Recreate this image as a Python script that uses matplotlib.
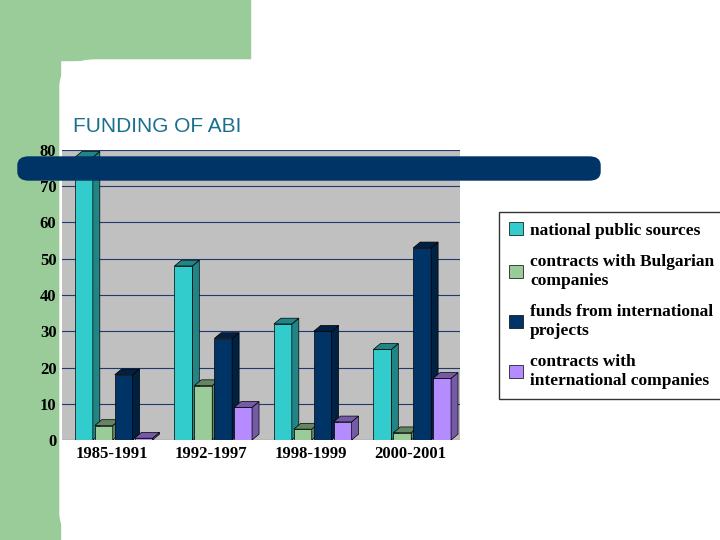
import matplotlib
matplotlib.use("Agg")
import matplotlib.pyplot as plt
from matplotlib.patches import Polygon, Rectangle, FancyBboxPatch
import numpy as np
import matplotlib.colors as mc

categories = ["1985-1991", "1992-1997", "1998-1999", "2000-2001"]
series = ["national public sources", "contracts with Bulgarian\ncompanies",
          "funds from international\nprojects", "contracts with\ninternational companies"]
values = [
    [78, 48, 32, 25],
    [4, 15, 3, 2],
    [18, 28, 30, 53],
    [0.5, 9, 5, 17],
]
colors = ["#33CCCC", "#99CC99", "#003366", "#B48CFF"]

fig = plt.figure(figsize=(7.2, 5.4), dpi=100)
fig.patch.set_facecolor("white")
# slide decorations
fig.patches.append(Rectangle((0, 1 - 60/540), 250/720, 60/540, transform=fig.transFigure, color="#99CC99", zorder=0))
fig.patches.append(Rectangle((0, 0), 60/720, 1, transform=fig.transFigure, color="#99CC99", zorder=0))
fig.patches.append(FancyBboxPatch((60/720, 0), 0.9, 480/540, boxstyle="round,pad=0,rounding_size=0.05",
                                  transform=fig.transFigure, color="white", zorder=0.5))
fig.text(73/720, 1 - 127/540, "FUNDING OF ABI", fontsize=15, color="#1A6E8E",
         family="Liberation Sans", va="center")

ax = fig.add_axes([62/720, 100/540, 398/720, 290/540])
ax.set_zorder(2)
ax.set_facecolor("#C0C0C0")
ax.set_xlim(-0.5, 3.5)
ax.set_ylim(0, 80)
ax.set_yticks(range(0, 81, 10))
ax.yaxis.grid(True, color="#1F3A6E", lw=0.8)
ax.set_axisbelow(True)
ax.set_xticks(range(4))
ax.set_xticklabels(categories)
for lab in ax.get_xticklabels() + ax.get_yticklabels():
    lab.set_fontfamily("Liberation Serif"); lab.set_fontweight("bold"); lab.set_fontsize(12)
ax.tick_params(length=0, pad=4)
for s in ax.spines.values():
    s.set_visible(False)

w = 0.18; dx = 0.07; dy = 1.6
for i, vals in enumerate(values):
    c = colors[i]
    dark = tuple(np.array(mc.to_rgb(c)) * 0.65)
    for j, v in enumerate(vals):
        x0 = j - 0.37 + i * (w + 0.02)
        ax.add_patch(Polygon([(x0, 0), (x0 + w, 0), (x0 + w, v), (x0, v)], closed=True,
                             fc=c, ec="black", lw=0.5, zorder=3))
        ax.add_patch(Polygon([(x0 + w, 0), (x0 + w + dx, dy), (x0 + w + dx, v + dy), (x0 + w, v)],
                             closed=True, fc=dark, ec="black", lw=0.5, zorder=3))
        ax.add_patch(Polygon([(x0, v), (x0 + w, v), (x0 + w + dx, v + dy), (x0 + dx, v + dy)],
                             closed=True, fc=dark, ec="black", lw=0.5, zorder=3))

handles = [Rectangle((0, 0), 1, 1, fc=c, ec="black", lw=0.5) for c in colors]
leg = fig.legend(handles, series, loc="upper left", bbox_to_anchor=(490/720, 1 - 203/540),
                 prop={"family": "Liberation Serif", "weight": "bold", "size": 12.5},
                 frameon=True, fancybox=False, edgecolor="black", handlelength=0.8,
                 handleheight=0.8, handletextpad=0.4, labelspacing=0.9, borderpad=0.6)
leg.set_zorder(3)

# navy banner
banner = FancyBboxPatch((18/720, 1 - 180/540), 582/720, 23/540,
                        boxstyle="round,pad=0,rounding_size=0.015",
                        transform=fig.transFigure, color="#003366", zorder=10)
fig.add_artist(banner)
fig.savefig("out.png", dpi=100)
